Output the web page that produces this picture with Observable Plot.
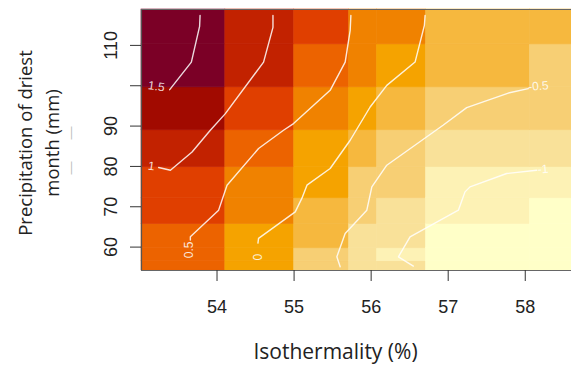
<!DOCTYPE html>
<html><head><meta charset="utf-8">
<script src="https://cdn.jsdelivr.net/npm/d3@7"></script>
<script src="https://cdn.jsdelivr.net/npm/@observablehq/plot@0.6"></script>
<style>body{margin:0;background:#fff;} #chart svg{display:block;}</style>
</head><body><div id="chart"></div>
<script>
// Cell boundaries (Isothermality %, Precipitation of driest month mm)
const xBreaks = [53.02, 54.108, 55.002, 55.715, 56.078, 56.713, 58.061, 58.6];
const yBreaks = [54.2, 56.5, 59.7, 65.7, 72.1, 79.8, 88.96, 99.6, 110.25, 118.9];
const palette = ["#7b0026","#a10a00","#c22200","#e03f00","#ec6300","#f08200","#f5a300","#f6b83e","#f7cf74","#f9e199","#fdf2b5","#ffffc8"];
// colour level per column, rows listed bottom to top
const col1 = [4,4,4,3,3,2,1,0,0];
const col2 = [6,6,6,5,5,4,3,2,2];
const col3 = [8,8,7,7,6,6,5,4,3];
const col4 = [9,9,9,8,8,7,6,5,5];
const col5 = [9,10,9,9,8,8,7,6,5];
const col6 = [11,11,11,10,10,9,8,7,7];
const col7 = [11,11,11,11,10,9,8,8,7];
const columns = [col1, col2, col3, col4, col5, col6, col7];

// contour lines [x, y]
const contour15 = [[53.780,117.43],[53.774,114.70],[53.667,105.87],[53.386,99.03]];
const contour1 = [[54.726,117.43],[54.726,114.46],[54.604,105.87],[54.108,93.09],[53.913,88.96],[53.676,83.59],[53.395,79.06],[53.243,79.73]];
const contour05 = [[55.737,117.43],[55.728,113.71],[55.663,105.87],[55.468,98.86],[54.993,90.62],[54.863,88.96],[54.539,84.43],[54.130,75.35],[54.021,69.16],[53.654,62.55],[53.654,61.73]];
const contour0 = [[56.700,117.43],[56.691,114.95],[56.570,105.87],[56.203,100.10],[55.987,94.73],[55.728,86.49],[55.468,79.48],[55.167,75.35],[55.102,72.13],[55.015,68.74],[54.539,62.15],[54.531,60.99]];
const contourM05 = [[58.039,99.28],[57.780,98.19],[57.240,94.58],[56.933,90.20],[56.203,80.30],[56.009,74.93],[55.944,69.16],[55.663,63.39],[55.555,57.60],[55.598,55.12]];
const contourM1 = [[58.148,79.06],[57.759,78.24],[57.283,74.93],[57.218,73.69],[57.132,69.16],[56.505,62.55],[56.354,57.60],[56.548,55.30]];
const contourLevels = ["1.5","1","0.5","0","-0.5","-1"];
const contourPaths = [contour15, contour1, contour05, contour0, contourM05, contourM1];

// contour labels
const labelText = ["1.5","1","0.5","0","-0.5","-1"];
const labelX = [53.213, 53.148, 53.632, 54.539, 58.17, 58.23];
const labelY = [99.85, 80.05, 59.3, 57.5, 99.9, 79.3];
const labelAngle = [8, 8, -90, -90, -5, -5];

const xTicks = [54, 55, 56, 57, 58];
const yTicks = [60, 70, 80, 90, 100, 110];
const xTitle = "Isothermality (%)";
const yTitle = "Precipitation of driest\nmonth (mm)";

const cells = [];
columns.forEach((col, c) => col.forEach((lev, r) => cells.push({
  x1: xBreaks[c], x2: xBreaks[c + 1], y1: yBreaks[r], y2: yBreaks[r + 1], level: lev
})));
const lines = contourPaths.flatMap((p, i) => p.map(([x, y]) => ({x, y, level: contourLevels[i]})));
const labels = labelText.map((t, i) => ({text: t, x: labelX[i], y: labelY[i], angle: labelAngle[i]}));

const plot = Plot.plot({
  width: 571,
  height: 377,
  marginLeft: 141,
  marginRight: 0,
  marginTop: 9,
  marginBottom: 107,
  style: {fontFamily: "'Liberation Sans', Arial, sans-serif", fontSize: "18px", background: "#fff", color: "#222"},
  x: {domain: [xBreaks[0], xBreaks[xBreaks.length - 1]]},
  y: {domain: [yBreaks[0], yBreaks[yBreaks.length - 1]]},
  marks: [
    Plot.rect(cells, {x1: "x1", x2: "x2", y1: "y1", y2: "y2", fill: d => palette[d.level], stroke: d => palette[d.level], strokeWidth: 0.6}),
    Plot.line(lines, {x: "x", y: "y", z: "level", stroke: "#fff", strokeOpacity: 0.85, strokeWidth: 1.4}),
    Plot.text(labels, {x: "x", y: "y", text: "text", rotate: "angle", fill: "#fff", fillOpacity: 0.85, fontSize: 12, fontFamily: "'Liberation Sans', Arial, sans-serif"}),
    Plot.ruleX([xBreaks[0]], {stroke: "#555", strokeWidth: 1.2}),
    Plot.ruleY([yBreaks[0], yBreaks[yBreaks.length - 1]], {stroke: "#666", strokeWidth: 1.2}),
    Plot.axisX({ticks: xTicks, tickSize: 11, tickPadding: 19, tickFormat: d => String(d), label: null, stroke: "#333"}),
    Plot.axisY({ticks: yTicks, tickSize: 11, tickPadding: 14, tickRotate: -90, tickFormat: d => d === 100 ? "" : String(d), label: null, stroke: "#333"}),
    Plot.text([xTitle], {frameAnchor: "bottom", dx: -21, dy: 88, text: d => d, fontFamily: "'Open Sans', sans-serif", fontSize: 21, fill: "#222"}),
    Plot.text([yTitle], {frameAnchor: "left", textAnchor: "middle", dx: -105, dy: 3, rotate: -90, text: d => d, fontFamily: "'Open Sans', sans-serif", fontSize: 18.5, lineHeight: 1.5, fill: "#222"}),
    Plot.text(["\u2014"], {frameAnchor: "left", textAnchor: "middle", dx: -71, dy: -7, rotate: -90, text: d => d, fontSize: 13, fill: "#bbb"}),
    Plot.text(["\u2014"], {frameAnchor: "left", textAnchor: "middle", dx: -71, dy: 28, rotate: -90, text: d => d, fontSize: 13, fill: "#bbb"})
  ]
});
document.getElementById("chart").appendChild(plot);
</script>
</body></html>
